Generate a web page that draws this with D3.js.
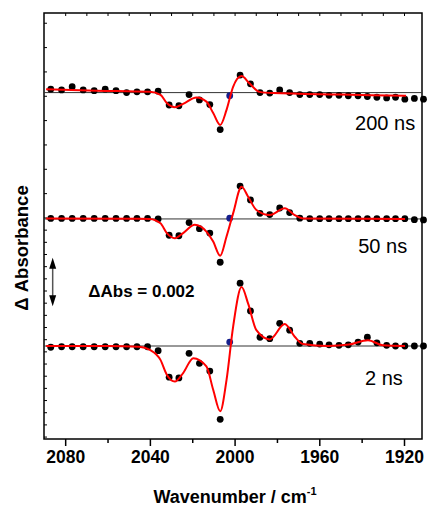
<!DOCTYPE html>
<html>
<head>
<meta charset="utf-8">
<script src="https://cdn.jsdelivr.net/npm/d3@7"></script>
<style>
  body { margin: 0; background: #fff; }
  text { font-family: "Liberation Sans", Arial, sans-serif; }
</style>
</head>
<body>
<svg id="chart" width="427" height="507"></svg>
<script>
// wavenumbers of the measured points (cm-1)
const wavenumbers = [2086.8, 2081.7, 2076.7, 2071.5, 2066.3, 2061.1, 2056.0, 2051.0, 2046.1, 2041.1,
  2036.1, 2030.9, 2026.3, 2021.5, 2016.6, 2011.7, 2006.8, 2002.3, 1997.4, 1992.5,
  1988.0, 1983.4, 1978.7, 1974.0, 1969.2, 1964.5, 1959.8, 1955.4, 1950.7, 1946.3,
  1941.7, 1937.3, 1932.8, 1928.2, 1924.0, 1919.6, 1915.1, 1910.8];

// delta absorbance, mOD, relative to each trace baseline
const abs2ns = [-0.05, -0.03, -0.03, -0.03, -0.03, -0.03, -0.03, -0.03, -0.03, -0.03,
  -0.19, -1.28, -1.31, -0.30, -0.71, -1.03, -3.01, 0.16, 2.58, 1.44,
  0.36, 0.30, 0.93, 0.65, 0.11, 0.11, 0.08, 0.05, 0.03, 0.05,
  0.16, 0.36, 0.13, 0.03, 0, 0, 0, 0];
const abs50ns = [0.02, 0.02, 0.02, 0.02, 0.02, 0.02, 0.02, 0.02, 0.02, 0.02,
  0, -0.67, -0.69, -0.15, -0.40, -0.58, -1.78, 0.03, 1.35, 0.78,
  0.23, 0.18, 0.45, 0.26, 0.03, 0.01, 0.01, 0.01, 0.01, 0.01,
  0.01, 0.01, 0.01, 0.01, 0.01, 0.01, -0.03, -0.04];
const abs200ns = [0.14, 0.11, 0.24, 0.11, 0.08, 0.14, 0.08, 0, 0.03, 0.03,
  0.06, -0.51, -0.54, -0.08, -0.30, -0.49, -1.52, -0.13, 0.72, 0.36,
  0, -0.02, 0.11, 0, -0.08, -0.08, -0.08, -0.11, -0.11, -0.13,
  -0.13, -0.16, -0.19, -0.22, -0.19, -0.27, -0.24, -0.27];

// fitted curves
const fit2nsWn = [2089, 2060, 2045, 2040, 2035, 2032, 2028.2, 2024.3, 2019.5, 2013.3, 2010.1, 2006.8, 2003.8,
  2000.7, 1996.7, 1993.6, 1989.7, 1983.4, 1976.3, 1971.6, 1967.7, 1956, 1946, 1937, 1930, 1919.5];
const fit2nsAbs = [0, 0, -0.03, -0.16, -0.57, -1.18, -1.46, -1.11, -0.50, -0.84, -1.80, -2.68, -1.39,
  0.79, 2.42, 1.74, 0.65, 0.27, 0.90, 0.38, 0.08, 0, 0.06, 0.24, 0.03, 0];
const fit50nsWn = [2089, 2045, 2040, 2035, 2032, 2028.2, 2024.3, 2018.8, 2013.3, 2010.1, 2006.8, 2003.8,
  2000.7, 1996.7, 1993.6, 1989.7, 1983.4, 1976.3, 1971.6, 1967.7, 1919.5];
const fit50nsAbs = [0.02, 0.01, 0, -0.18, -0.58, -0.79, -0.58, -0.24, -0.52, -0.93, -1.51, -0.72,
  0.23, 1.32, 0.91, 0.37, 0.16, 0.44, 0.16, 0.02, 0];
const fit200nsWn = [2089, 2065, 2040, 2035, 2032, 2028.2, 2024.3, 2018, 2013.3, 2010.1, 2006.8, 2003.8,
  2000.7, 1996.7, 1993, 1988.2, 1982, 1950, 1919];
const fit200nsAbs = [0.14, 0.08, 0.03, -0.09, -0.43, -0.60, -0.46, -0.20, -0.37, -0.84, -1.33, -0.71,
  0.24, 0.68, 0.38, 0.03, -0.02, -0.08, -0.13];

const traceLabels = ["2 ns", "50 ns", "200 ns"];
const baselines = [3.72, 8.94, 14.13];   // vertical offsets of the traces, mOD
const highlightIndex = 17;               // point drawn in blue
const xTicks = [2080, 2040, 2000, 1960, 1920];
const scaleBar = 2;                      // mOD  (dAbs = 0.002)

const svg = d3.select("#chart");
const plotLeft = 44, plotRight = 422, plotTop = 13, plotBottom = 439;

const x = d3.scaleLinear().domain([2090, 1911.5]).range([plotLeft, plotRight]);
const y = d3.scaleLinear().domain([-0.1, 17.4]).range([plotBottom, plotTop]);

// axes
const minorX = [2060, 2020, 1980, 1940];
svg.append("g").attr("transform", `translate(0,${plotBottom})`)
  .call(d3.axisBottom(x).tickValues(xTicks).tickSize(7).tickPadding(5).tickFormat(d3.format("d")))
  .call(g => g.select(".domain").remove())
  .call(g => g.selectAll("line").attr("stroke-width", 1.5))
  .call(g => g.selectAll("text").attr("font-size", 17.5).attr("font-weight", "bold")
    .attr("font-family", "Liberation Sans, Arial, sans-serif").attr("fill", "#000"));
svg.append("g").attr("transform", `translate(0,${plotBottom})`)
  .call(d3.axisBottom(x).tickValues(minorX).tickSize(4).tickFormat(""))
  .call(g => g.select(".domain").remove())
  .call(g => g.selectAll("line").attr("stroke-width", 1.5));
svg.append("g").attr("transform", `translate(0,${plotTop})`)
  .call(d3.axisTop(x).tickValues(d3.range(2080, 1911, -10)).tickSize(-3).tickFormat(""))
  .call(g => g.select(".domain").remove());

const yTicks = d3.range(0, 9.01, 0.5).concat(d3.range(10, 17.1, 1));
svg.append("g").attr("transform", `translate(${plotLeft},0)`)
  .call(d3.axisLeft(y).tickValues(yTicks).tickSize(-3).tickFormat(""))
  .call(g => g.select(".domain").remove());

svg.append("rect")
  .attr("x", plotLeft).attr("y", plotTop)
  .attr("width", plotRight - plotLeft).attr("height", plotBottom - plotTop)
  .attr("fill", "none").attr("stroke", "#000").attr("stroke-width", 1.5);

// traces
const traces = [
  { pts: abs2ns, fitWn: fit2nsWn, fitAbs: fit2nsAbs },
  { pts: abs50ns, fitWn: fit50nsWn, fitAbs: fit50nsAbs },
  { pts: abs200ns, fitWn: fit200nsWn, fitAbs: fit200nsAbs }
];
const labelPos = [[1938.4, 2.12], [1941.6, 7.53], [1943.1, 12.6]];

const line = d3.line().curve(d3.curveMonotoneX);

traces.forEach((t, k) => {
  const base = baselines[k];
  svg.append("line")
    .attr("x1", plotLeft).attr("x2", plotRight)
    .attr("y1", y(base)).attr("y2", y(base))
    .attr("stroke", "#333").attr("stroke-width", 1);

  svg.append("g").selectAll("circle")
    .data(t.pts)
    .enter()
    .append("circle")
    .attr("cx", (d, i) => x(wavenumbers[i]))
    .attr("cy", d => y(base + d))
    .attr("r", 3.4)
    .attr("fill", (d, i) => i == highlightIndex ? "#141e8c" : "#000");

  svg.append("path")
    .attr("d", line(t.fitWn.map((w, i) => [x(w), y(base + t.fitAbs[i])])))
    .attr("fill", "none").attr("stroke", "#ff0000").attr("stroke-width", 2);

  svg.append("text")
    .attr("x", x(labelPos[k][0])).attr("y", y(labelPos[k][1]))
    .attr("font-size", 20)
    .text(traceLabels[k]);
});

// scale bar
const barX = x(2085.9), barLo = 5.35;
svg.append("line")
  .attr("x1", barX).attr("x2", barX)
  .attr("y1", y(barLo) - 6).attr("y2", y(barLo + scaleBar) + 6)
  .attr("stroke", "#555").attr("stroke-width", 1.5);
svg.append("path")
  .attr("d", `M${barX},${y(barLo + scaleBar)} l-3.5,11 l7,0 Z M${barX},${y(barLo)} l-3.5,-11 l7,0 Z`)
  .attr("fill", "#000");
svg.append("text")
  .attr("x", x(2069.1)).attr("y", y(5.72))
  .attr("font-size", 17).attr("font-weight", "bold")
  .text("\u0394Abs = 0.002");

// axis titles
const xt = svg.append("text")
  .attr("x", 235).attr("y", 503)
  .attr("text-anchor", "middle")
  .attr("font-size", 18).attr("font-weight", "bold");
xt.append("tspan").text("Wavenumber / cm");
xt.append("tspan").attr("dy", -8).attr("font-size", 11).text("-1");

svg.append("text")
  .attr("transform", "translate(28,248) rotate(-90)")
  .attr("text-anchor", "middle")
  .attr("font-size", 18.5).attr("font-weight", "bold")
  .text("\u0394 Absorbance");
</script>
</body>
</html>
